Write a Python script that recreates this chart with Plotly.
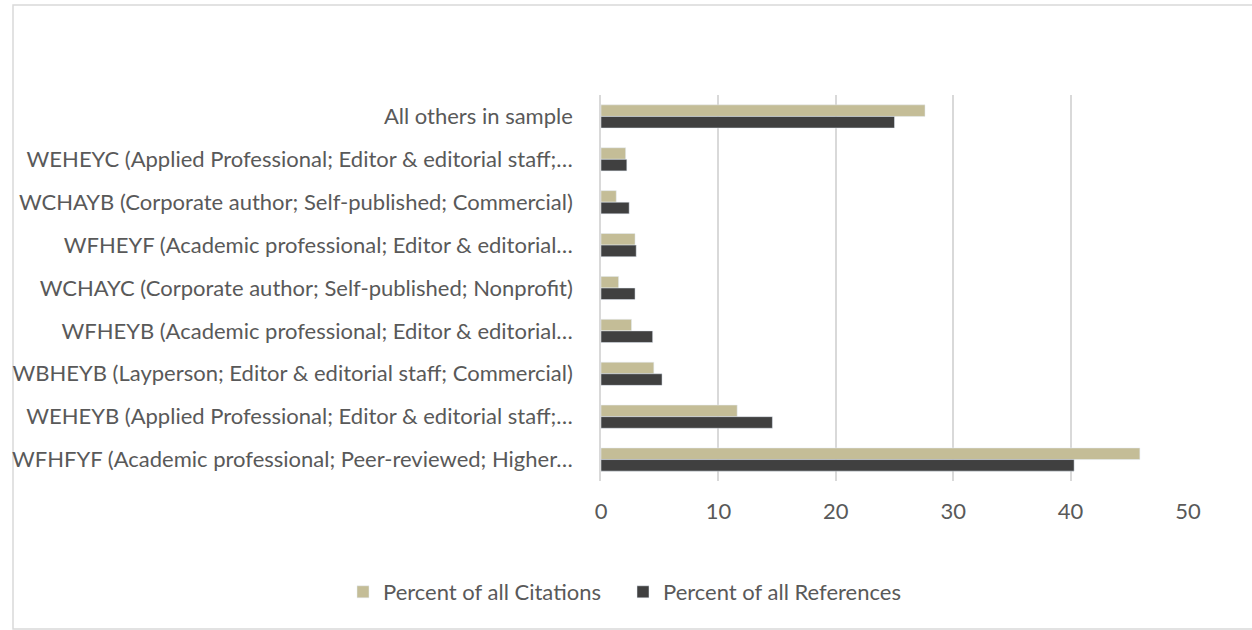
import plotly.graph_objects as go

categories = [
    "All others in sample",
    "WEHEYC (Applied Professional; Editor & editorial staff;…",
    "WCHAYB (Corporate author; Self-published; Commercial)",
    "WFHEYF (Academic professional; Editor & editorial…",
    "WCHAYC (Corporate author; Self-published; Nonprofit)",
    "WFHEYB (Academic professional; Editor & editorial…",
    "WBHEYB (Layperson; Editor & editorial staff; Commercial)",
    "WEHEYB (Applied Professional; Editor & editorial staff;…",
    "WFHFYF (Academic professional; Peer-reviewed; Higher…",
]
pct_citations = [27.6, 2.1, 1.3, 2.9, 1.5, 2.6, 4.5, 11.6, 45.9]
pct_references = [25.0, 2.2, 2.4, 3.0, 2.9, 4.4, 5.2, 14.6, 40.3]
x_ticks = [0, 10, 20, 30, 40, 50]

FONT = "Lato"
TXT = "#595959"
FS = 22

fig = go.Figure()
fig.add_trace(go.Bar(y=categories, x=pct_citations, orientation="h",
                     name="Percent of all Citations", marker_color="#c4bd97"))
fig.add_trace(go.Bar(y=categories, x=pct_references, orientation="h",
                     name="Percent of all References", marker_color="#404040"))

L, R, T, B = 597, 1188, 95, 481
fig.update_layout(
    width=1252, height=630,
    margin=dict(l=L, r=1252 - R, t=T, b=630 - B),
    paper_bgcolor="white", plot_bgcolor="white",
    barmode="group", bargap=0.46, bargroupgap=0,
    font=dict(family=FONT, size=FS, color=TXT),
    xaxis=dict(range=[0, 50], tickvals=x_ticks, showgrid=True, gridcolor="#d9d9d9",
               gridwidth=1.5, zeroline=False, showline=False, ticks="",
               tickfont=dict(size=FS, color=TXT), ticklabelstandoff=15),
    yaxis=dict(autorange="reversed", showgrid=False, showline=True,
               linecolor="#d9d9d9", linewidth=1.5, ticks="",
               tickfont=dict(size=FS, color=TXT), ticklabelstandoff=22),
    legend=dict(orientation="h", xref="container", yref="container",
                x=343 / 1252, xanchor="left", y=1 - 592 / 630, yanchor="middle",
                entrywidth=235, entrywidthmode="pixels",
                font=dict(size=FS, color=TXT)),
    showlegend=True,
)

# chart border (Excel chart area outline)
pw, ph = R - L, B - T
fig.add_shape(type="rect", xref="paper", yref="paper",
              x0=(5 - L) / pw, x1=(1270 - L) / pw,
              y0=(B - 629) / ph, y1=(B - 5) / ph,
              line=dict(color="#d9d9d9", width=1.5), fillcolor="rgba(0,0,0,0)",
              layer="below")

fig.write_html("out.html", config={"displayModeBar": False},
               post_script="document.body.style.margin='0px';")
